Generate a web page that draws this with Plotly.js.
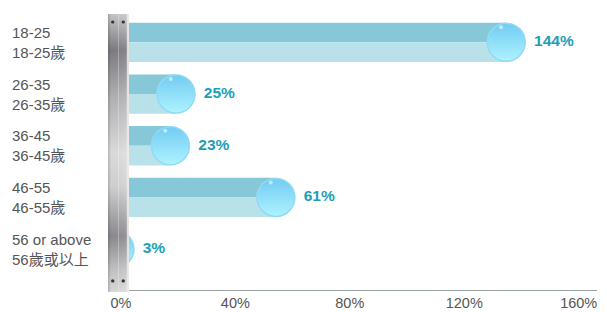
<!DOCTYPE html>
<html>
<head>
<meta charset="utf-8">
<script src="https://cdn.plot.ly/plotly-3.0.1.min.js"></script>
<style>html,body{margin:0;padding:0;background:#fff;}#chart{width:607px;height:312px;}</style>
</head>
<body>
<div id="chart"></div>
<script>
// ---- data ----
const groupsEn = ["18-25", "26-35", "36-45", "46-55", "56 or above"];
const groupsZh = ["18-25歲", "26-35歲", "36-45歲", "46-55歲", "56歲或以上"];
const values = [144, 25, 23, 61, 3];
const tickVals = [0, 40, 80, 120, 160];
const tickText = ["0%", "40%", "80%", "120%", "160%"];

const rows = values.map((v, i) => i);
const font = "'Liberation Sans', Arial, 'Noto Sans CJK TC', sans-serif";

// bubble sits on the end of each bar; the bar runs into the bubble's centre
const bubbleX = values.map(v => v * 0.97 - 5);

const traces = [
  { type: "bar", orientation: "h", x: bubbleX, y: rows, width: 0.38, offset: -0.38,
    marker: { color: "#87c8d8", line: { width: 0 } }, hoverinfo: "skip" },
  { type: "bar", orientation: "h", x: bubbleX, y: rows, width: 0.38, offset: 0,
    marker: { color: "#b8e1ea", line: { width: 0 } }, hoverinfo: "skip" },
  { type: "scatter", mode: "markers", x: bubbleX, y: rows,
    marker: { size: 38, color: "#72cbf2",
      gradient: { type: "vertical", color: "#aef3ff" },
      line: { color: "#8fdaf6", width: 1.5 } },
    hoverinfo: "skip", cliponaxis: true },
  { type: "scatter", mode: "markers", x: bubbleX.map(x => x - 1.8), y: rows.map(r => r - 0.29),
    marker: { size: 4, color: "rgba(255,255,255,0.55)", line: { width: 0 } },
    hoverinfo: "skip", cliponaxis: true },
  { type: "scatter", mode: "markers+text", x: bubbleX, y: rows,
    text: values.map(v => "\u2009" + v + "%"), textposition: "middle right",
    textfont: { family: font, size: 15.5, color: "#1b9fb6", weight: "bold" },
    marker: { size: 38, color: "rgba(0,0,0,0)", line: { width: 0 } },
    hoverinfo: "skip", cliponaxis: false }
];

const poleSvg = `<svg xmlns="http://www.w3.org/2000/svg" width="20" height="278" viewBox="0 0 20 278" preserveAspectRatio="none">
<defs>
<linearGradient id="v" x1="0" y1="0" x2="0" y2="1">
<stop offset="0" stop-color="#c9c8ca"/>
<stop offset="0.13" stop-color="#7f7d82"/>
<stop offset="0.3" stop-color="#b3b2b5"/>
<stop offset="0.5" stop-color="#dedede"/>
<stop offset="0.62" stop-color="#d2d2d3"/>
<stop offset="0.8" stop-color="#8d8b90"/>
<stop offset="0.92" stop-color="#c4c3c5"/>
<stop offset="1" stop-color="#dcdbdc"/>
</linearGradient>
<linearGradient id="h" x1="0" y1="0" x2="1" y2="0">
<stop offset="0" stop-color="#000" stop-opacity="0.18"/>
<stop offset="0.15" stop-color="#000" stop-opacity="0.02"/>
<stop offset="0.85" stop-color="#fff" stop-opacity="0.05"/>
<stop offset="1" stop-color="#fff" stop-opacity="0.5"/>
</linearGradient>
</defs>
<rect width="20" height="278" fill="url(#v)"/>
<rect width="20" height="278" fill="url(#h)"/>
<rect x="9.5" y="0" width="0.8" height="278" fill="#ffffff" fill-opacity="0.35"/>
<rect x="18" y="0" width="2" height="278" fill="#eeeae6" fill-opacity="0.8"/>
<circle cx="4.5" cy="8" r="1.6" fill="#333"/>
<circle cx="14.5" cy="8" r="1.6" fill="#333"/>
<circle cx="4.5" cy="267" r="1.6" fill="#333"/>
<circle cx="14.5" cy="267" r="1.6" fill="#333"/>
</svg>`;

const annotations = groupsEn.map((g, i) => ({
  xref: "paper", yref: "y", x: -0.2004, y: i, xanchor: "left", yanchor: "middle",
  align: "left", showarrow: false, text: g + "<br>" + groupsZh[i],
  font: { family: font, size: 15, color: "#555555" }
}));

const layout = {
  width: 607, height: 312,
  margin: { l: 108, r: 10, t: 17, b: 22 },
  paper_bgcolor: "#ffffff", plot_bgcolor: "#ffffff",
  showlegend: false, barmode: "overlay",
  xaxis: { range: [-4.5, 166.4], tickvals: tickVals, ticktext: tickText,
    showgrid: false, zeroline: false, showline: true, linecolor: "#9aa3a3", linewidth: 1,
    ticks: "", tickfont: { family: font, size: 14.5, color: "#555555" }, fixedrange: true },
  yaxis: { range: [4.79, -0.49], showticklabels: false, showgrid: false, zeroline: false,
    showline: false, fixedrange: true },
  annotations: annotations,
  images: [{
    source: "data:image/svg+xml;charset=utf-8," + encodeURIComponent(poleSvg),
    xref: "paper", yref: "paper", x: 0, y: 1.011, sizex: 0.043, sizey: 1.018,
    xanchor: "left", yanchor: "top", sizing: "stretch", layer: "above"
  }]
};

Plotly.newPlot("chart", traces, layout, { displayModeBar: false, staticPlot: true });
</script>
</body>
</html>
